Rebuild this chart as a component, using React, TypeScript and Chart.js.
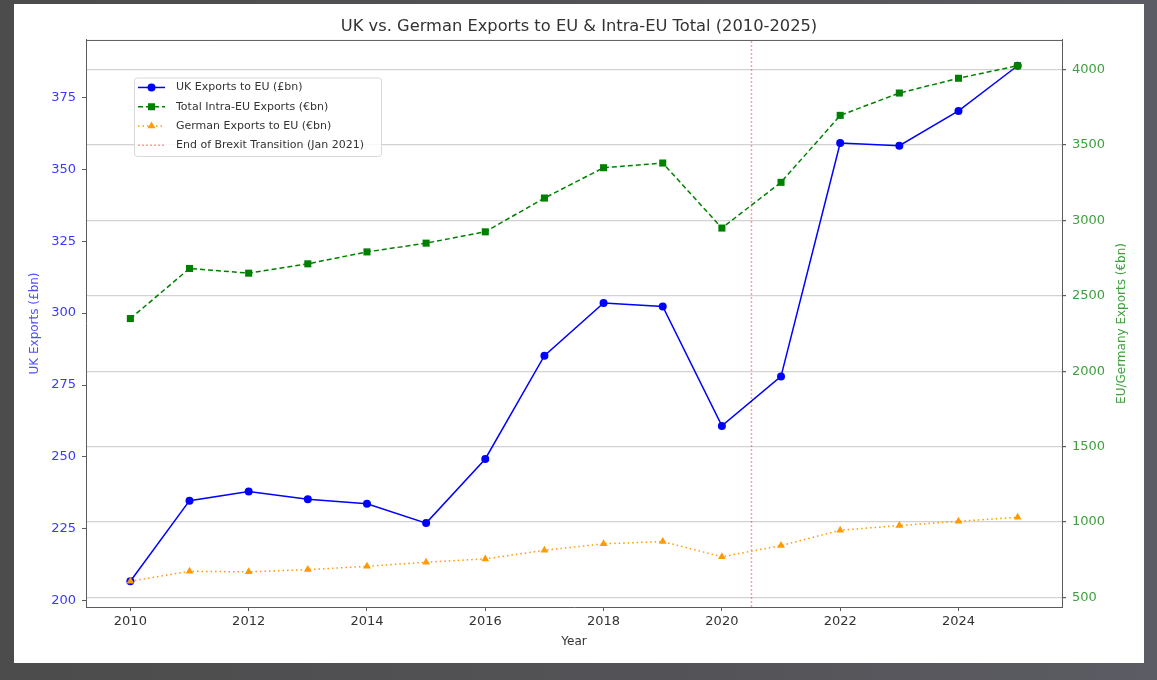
import React, { useEffect, useRef } from "react";
import { Chart, registerables } from "chart.js";

Chart.register(...registerables);

// ---- data ----
const years = [2010, 2011, 2012, 2013, 2014, 2015, 2016, 2017, 2018, 2019, 2020, 2021, 2022, 2023, 2024, 2025];
const ukExports = [206.8, 234.8, 238.0, 235.3, 233.7, 227.0, 249.3, 285.2, 303.5, 302.3, 260.8, 278.0, 359.1, 358.2, 370.3, 386.0];
const intraEuExports = [2349, 2681, 2650, 2712, 2791, 2849, 2924, 3148, 3349, 3380, 2949, 3252, 3696, 3844, 3942, 4025];
const germanExports = [608, 674, 670, 685, 707, 734, 756, 813, 856, 871, 770, 844, 946, 977, 1005, 1032];
const brexitX = 2020.5;

const seriesLabels = [
  "UK Exports to EU (£bn)",
  "Total Intra-EU Exports (€bn)",
  "German Exports to EU (€bn)",
  "End of Brexit Transition (Jan 2021)",
];
const xTicks = [2010, 2012, 2014, 2016, 2018, 2020, 2022, 2024];
const ukTicks = [200, 225, 250, 275, 300, 325, 350, 375];
const euTicks = [500, 1000, 1500, 2000, 2500, 3000, 3500, 4000];

const chartTitle = "UK vs. German Exports to EU & Intra-EU Total (2010-2025)";
const xTitle = "Year";
const leftTitle = "UK Exports (£bn)";
const rightTitle = "EU/Germany Exports (€bn)";

function padRange(values: number[], frac = 0.05): [number, number] {
  const mn = Math.min(...values);
  const mx = Math.max(...values);
  const r = mx - mn;
  return [mn - r * frac, mx + r * frac];
}

const FONT = "'DejaVu Sans', sans-serif";
const BLUE = "#0000ff";
const GREEN = "#008000";
const ORANGE = "#ff9a00";
const RED = "rgba(255,40,40,0.45)";
const FRAME = "#5c5c5c";
const GRID = "#d2d2d2";

export default function App() {
  const ref = useRef<HTMLCanvasElement>(null);

  useEffect(() => {
    if (!ref.current) return;
    const [xMin, xMax] = padRange(years);
    const [yMin, yMax] = padRange(ukExports);
    const [y1Min, y1Max] = padRange([...intraEuExports, ...germanExports]);

    const styles = [
      { color: BLUE, dash: [] as number[], marker: "circle" },
      { color: GREEN, dash: [5, 3], marker: "rect" },
      { color: ORANGE, dash: [1.5, 3], marker: "triangle" },
      { color: RED, dash: [2, 2], marker: "none" },
    ];

    const drawMarker = (ctx: CanvasRenderingContext2D, kind: string, x: number, y: number, color: string) => {
      ctx.save();
      ctx.setLineDash([]);
      ctx.fillStyle = color;
      ctx.beginPath();
      if (kind === "circle") {
        ctx.arc(x, y, 4, 0, Math.PI * 2);
      } else if (kind === "rect") {
        ctx.rect(x - 3.5, y - 3.5, 7, 7);
      } else if (kind === "triangle") {
        ctx.moveTo(x, y - 4.5);
        ctx.lineTo(x + 3.9, y + 2.25);
        ctx.lineTo(x - 3.9, y + 2.25);
        ctx.closePath();
      } else {
        ctx.restore();
        return;
      }
      ctx.fill();
      ctx.restore();
    };

    const decorPlugin = {
      id: "decor",
      afterDraw(chart: any) {
        const { ctx, chartArea } = chart;
        // top spine
        ctx.save();
        ctx.strokeStyle = FRAME;
        ctx.lineWidth = 1;
        ctx.beginPath();
        ctx.moveTo(chartArea.left, chartArea.top + 0.5);
        ctx.lineTo(chartArea.right, chartArea.top + 0.5);
        ctx.stroke();
        ctx.restore();

        // right axis title (bottom-to-top)
        ctx.save();
        ctx.fillStyle = "#3f9f3f";
        ctx.font = `12px ${FONT}`;
        ctx.textAlign = "center";
        ctx.textBaseline = "middle";
        ctx.translate(1108, (chartArea.top + chartArea.bottom) / 2);
        ctx.rotate(-Math.PI / 2);
        ctx.fillText(rightTitle, 0, 0);
        ctx.restore();

        // legend inside the plot
        const bx = chartArea.left + 48;
        const by = chartArea.top + 37.5;
        const bw = 247;
        const bh = 78.5;
        ctx.save();
        ctx.fillStyle = "rgba(255,255,255,0.85)";
        ctx.strokeStyle = "#d8d8d8";
        ctx.lineWidth = 1;
        ctx.beginPath();
        (ctx as any).roundRect(bx + 0.5, by + 0.5, bw, bh, 3);
        ctx.fill();
        ctx.stroke();
        ctx.font = `11px ${FONT}`;
        ctx.textAlign = "left";
        ctx.textBaseline = "middle";
        seriesLabels.forEach((label, i) => {
          const s = styles[i];
          const cy = by + 10 + i * 19.3;
          ctx.save();
          ctx.strokeStyle = s.color;
          ctx.lineWidth = 1.5;
          ctx.setLineDash(s.dash);
          ctx.beginPath();
          ctx.moveTo(bx + 4, cy);
          ctx.lineTo(bx + 31, cy);
          ctx.stroke();
          ctx.restore();
          drawMarker(ctx, s.marker, bx + 17.5, cy, s.color);
          ctx.fillStyle = "#333";
          ctx.fillText(label, bx + 42, cy);
        });
        ctx.restore();
      },
    };

    const toXY = (vals: number[]) => vals.map((v, i) => ({ x: years[i], y: v }));

    const chart = new Chart(ref.current, {
      type: "line",
      data: {
        datasets: [
          {
            label: seriesLabels[0],
            data: toXY(ukExports),
            yAxisID: "y",
            borderColor: BLUE,
            backgroundColor: BLUE,
            borderWidth: 1.5,
            pointStyle: "circle",
            pointRadius: 4,
            pointBorderWidth: 0,
            order: 3,
          },
          {
            label: seriesLabels[1],
            data: toXY(intraEuExports),
            yAxisID: "y1",
            borderColor: GREEN,
            backgroundColor: GREEN,
            borderWidth: 1.5,
            borderDash: [5, 3],
            pointStyle: "rect",
            pointRadius: 5,
            pointBorderWidth: 0,
            order: 1,
          },
          {
            label: seriesLabels[2],
            data: toXY(germanExports),
            yAxisID: "y1",
            borderColor: ORANGE,
            backgroundColor: ORANGE,
            borderWidth: 1.5,
            borderDash: [1.5, 3],
            pointStyle: "triangle",
            pointRadius: 4.5,
            pointBorderWidth: 0,
            order: 2,
          },
          {
            label: seriesLabels[3],
            data: [
              { x: brexitX, y: yMin },
              { x: brexitX, y: yMax },
            ],
            yAxisID: "y",
            borderColor: RED,
            borderWidth: 1.5,
            borderDash: [2, 2],
            pointRadius: 0,
            order: 4,
          },
        ],
      },
      options: {
        responsive: false,
        animation: false,
        devicePixelRatio: window.devicePixelRatio || 1,
        layout: { padding: 0 },
        plugins: {
          legend: { display: false },
          tooltip: { enabled: false },
          title: {
            display: true,
            text: chartTitle,
            color: "#333",
            font: { family: FONT, size: 16.3, weight: "normal" },
            padding: { top: 13.2, bottom: 3.2 },
          },
        },
        scales: {
          x: {
            type: "linear",
            min: xMin,
            max: xMax,
            afterBuildTicks: (scale: any) => {
              scale.ticks = xTicks.map((v) => ({ value: v }));
            },
            afterFit: (scale: any) => {
              scale.height = 56;
            },
            ticks: {
              color: "#333",
              font: { family: FONT, size: 13 },
              padding: 3,
              maxRotation: 0,
              autoSkip: false,
              callback: (v: any) => String(v),
            },
            grid: { drawOnChartArea: false, drawTicks: true, tickLength: 4, tickColor: FRAME },
            border: { display: true, color: FRAME, width: 1 },
            title: {
              display: true,
              text: xTitle,
              color: "#333",
              font: { family: FONT, size: 12 },
              padding: { top: 0, bottom: 14 },
            },
          },
          y: {
            type: "linear",
            position: "left",
            min: yMin,
            max: yMax,
            afterBuildTicks: (scale: any) => {
              scale.ticks = ukTicks.map((v) => ({ value: v }));
            },
            afterFit: (scale: any) => {
              scale.width = 72;
            },
            ticks: {
              color: "#3a3aff",
              font: { family: FONT, size: 13 },
              padding: 6,
              autoSkip: false,
              callback: (v: any) => String(v),
            },
            grid: { drawOnChartArea: false, drawTicks: true, tickLength: 4, tickColor: FRAME },
            border: { display: true, color: FRAME, width: 1 },
            title: {
              display: true,
              text: leftTitle,
              color: "#5050ff",
              font: { family: FONT, size: 12 },
              padding: { top: 14, bottom: 0 },
            },
          },
          y1: {
            type: "linear",
            position: "right",
            min: y1Min,
            max: y1Max,
            afterBuildTicks: (scale: any) => {
              scale.ticks = euTicks.map((v) => ({ value: v }));
            },
            afterFit: (scale: any) => {
              scale.width = 82;
            },
            ticks: {
              color: "#3f9f3f",
              font: { family: FONT, size: 13 },
              padding: 6,
              autoSkip: false,
              callback: (v: any) => String(v),
            },
            grid: {
              display: true,
              drawOnChartArea: true,
              color: GRID,
              lineWidth: 1.2,
              drawTicks: true,
              tickLength: 4,
              tickColor: FRAME,
            },
            border: { display: true, color: FRAME, width: 1 },
            title: { display: false },
          },
        },
      },
      plugins: [decorPlugin],
    } as any);

    return () => chart.destroy();
  }, []);

  return (
    <div
      style={{
        position: "fixed",
        left: 0,
        top: 0,
        width: 1157,
        height: 680,
        background: "linear-gradient(to right, #4c4c4c, #55555a 70%, #5c5c64)",
        overflow: "hidden",
      }}
    >
      <div
        style={{
          position: "absolute",
          left: 14,
          top: 4,
          width: 1130,
          height: 659,
          background: "#ffffff",
        }}
      >
        <canvas ref={ref} width={1130} height={659} style={{ width: 1130, height: 659, display: "block" }} />
      </div>
    </div>
  );
}
